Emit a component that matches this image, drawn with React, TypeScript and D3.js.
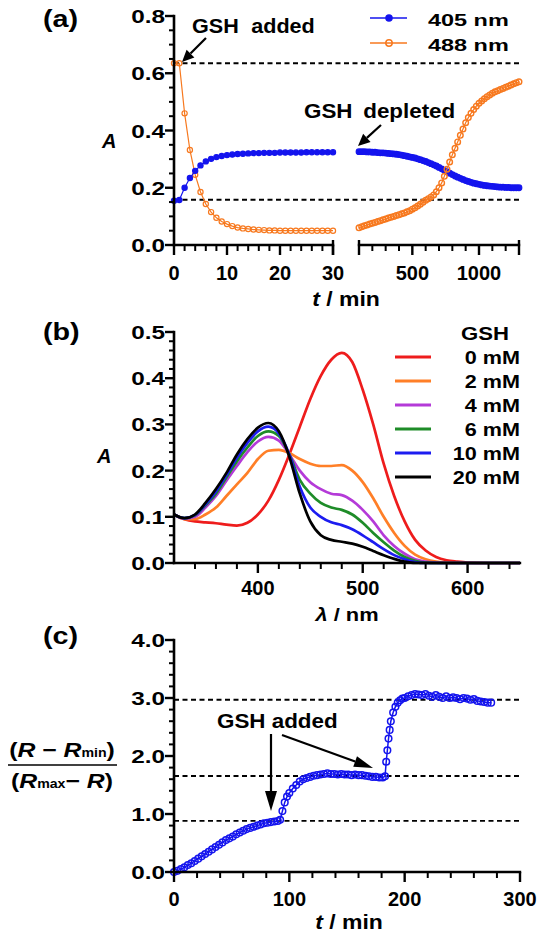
import React from 'react';
import * as d3 from 'd3';

// ---------- Panel (a) data ----------
const aTime1 = [0,1,2,3,4,5,6,7,8,9,10,11,12,13,14,15,16,17,18,19,20,21,22,23,24,25,26,27,28,29,30];
const a405Seg1 = [0.155,0.157,0.2,0.234,0.259,0.278,0.292,0.301,0.307,0.311,0.314,0.316,0.318,0.319,0.32,0.321,0.321,0.322,0.322,0.322,0.323,0.323,0.323,0.323,0.323,0.324,0.324,0.324,0.324,0.324,0.324];
const a488Seg1 = [0.635,0.635,0.46,0.332,0.245,0.185,0.143,0.115,0.095,0.082,0.073,0.066,0.061,0.058,0.056,0.054,0.053,0.052,0.051,0.051,0.05,0.05,0.05,0.05,0.05,0.05,0.05,0.05,0.05,0.05,0.05];
const aTime2 = [100,120,140,160,180,200,220,240,260,280,300,320,340,360,380,400,420,440,460,480,500,520,540,560,580,600,620,640,660,680,700,720,740,760,780,800,820,840,860,880,900,920,940,960,980,1000,1020,1040,1060,1080,1100,1120,1140,1160,1180,1200,1220,1240,1260,1280,1300];
const a405Seg2 = [0.326,0.326,0.326,0.325,0.325,0.324,0.324,0.323,0.322,0.322,0.321,0.32,0.319,0.318,0.317,0.316,0.314,0.312,0.31,0.308,0.306,0.304,0.301,0.298,0.295,0.292,0.288,0.284,0.28,0.276,0.271,0.266,0.261,0.256,0.251,0.246,0.241,0.237,0.233,0.229,0.225,0.222,0.219,0.216,0.214,0.212,0.21,0.208,0.207,0.206,0.205,0.204,0.203,0.202,0.202,0.201,0.201,0.2,0.2,0.2,0.2];
const a488Seg2 = [0.06,0.064,0.067,0.07,0.073,0.076,0.079,0.082,0.085,0.088,0.091,0.094,0.097,0.1,0.103,0.106,0.109,0.112,0.116,0.12,0.125,0.13,0.136,0.142,0.149,0.156,0.162,0.168,0.175,0.186,0.2,0.217,0.24,0.265,0.29,0.315,0.338,0.36,0.383,0.405,0.427,0.445,0.46,0.473,0.485,0.495,0.503,0.511,0.518,0.524,0.53,0.535,0.539,0.543,0.547,0.551,0.555,0.559,0.563,0.567,0.57];
const aRefLines = [0.635, 0.158];
const aYTicks = [0, 0.2, 0.4, 0.6, 0.8];
const aXTicks1 = [0, 10, 20, 30];
const aXTicks2 = [500, 1000];
const aLegend = ['405 nm', '488 nm'];

// ---------- Panel (b) data ----------
const bWavelength = [320,330,340,350,360,370,380,390,400,410,420,430,440,450,460,470,480,490,500,510,520,530,540,550,560,570,580,590,600,620,650];
const bGsh = ['0 mM', '2 mM', '4 mM', '6 mM', '10 mM', '20 mM'];
const bSpectra = [
  [0.105,0.095,0.09,0.088,0.086,0.083,0.081,0.087,0.105,0.135,0.18,0.235,0.295,0.355,0.405,0.44,0.455,0.435,0.375,0.3,0.215,0.145,0.09,0.05,0.027,0.013,0.006,0.003,0.001,0,0],
  [0.105,0.095,0.095,0.105,0.12,0.145,0.17,0.195,0.225,0.243,0.245,0.238,0.225,0.215,0.21,0.21,0.212,0.2,0.175,0.14,0.1,0.065,0.037,0.018,0.008,0.003,0.001,0,0,0,0],
  [0.105,0.096,0.1,0.12,0.145,0.178,0.21,0.24,0.263,0.273,0.265,0.235,0.2,0.175,0.16,0.15,0.147,0.135,0.115,0.09,0.06,0.037,0.02,0.008,0.003,0.001,0,0,0,0,0],
  [0.105,0.097,0.103,0.125,0.15,0.185,0.22,0.25,0.275,0.285,0.275,0.235,0.18,0.15,0.13,0.12,0.115,0.105,0.087,0.065,0.045,0.027,0.013,0.005,0.001,0,0,0,0,0,0],
  [0.105,0.097,0.104,0.127,0.155,0.19,0.228,0.26,0.285,0.295,0.28,0.235,0.165,0.12,0.1,0.088,0.082,0.073,0.06,0.045,0.03,0.017,0.008,0.002,0,0,0,0,0,0,0],
  [0.105,0.097,0.105,0.13,0.16,0.195,0.235,0.268,0.293,0.303,0.285,0.23,0.15,0.09,0.06,0.05,0.046,0.042,0.035,0.026,0.017,0.009,0.003,0,0,0,0,0,0,0,0],
];
const bColors = ['#ee1c1c', '#ff7f27', '#b43ad8', '#1e8c28', '#1c1cf0', '#000000'];
const bYTicks = [0, 0.1, 0.2, 0.3, 0.4, 0.5];
const bXTicks = [400, 500, 600];

// ---------- Panel (c) data ----------
const cTime = [0,3,6,9,12,15,18,21,24,27,30,33,36,39,42,45,48,51,54,57,60,63,66,69,72,75,78,81,84,87,90,92,94,96,98,100,103,106,109,112,115,118,121,124,127,130,133,136,139,142,145,148,151,154,157,160,163,166,169,172,175,178,181,183,184,185,186,187,188,190,192,194,196,198,200,203,206,209,212,215,218,221,224,227,230,233,236,239,242,245,248,251,254,257,260,263,266,269,272,275];
const cRatio = [0.00,0.02,0.05,0.08,0.12,0.15,0.19,0.23,0.27,0.31,0.35,0.39,0.43,0.47,0.51,0.55,0.58,0.61,0.65,0.68,0.71,0.74,0.76,0.78,0.80,0.82,0.84,0.85,0.86,0.87,0.88,0.90,1.05,1.20,1.30,1.36,1.44,1.50,1.56,1.60,1.62,1.64,1.66,1.67,1.68,1.69,1.70,1.69,1.69,1.68,1.69,1.68,1.68,1.67,1.68,1.67,1.67,1.66,1.65,1.64,1.64,1.63,1.63,1.65,1.90,2.10,2.30,2.45,2.60,2.75,2.85,2.92,2.96,2.99,3.00,3.03,3.05,3.07,3.06,3.05,3.07,3.04,3.02,3.05,3.02,3.00,3.03,3.00,3.01,3.00,2.98,3.00,2.99,2.97,2.98,2.95,2.94,2.93,2.92,2.92];
const cRefLines = [0.88, 1.655, 2.97];
const cYTicks = [0, 1, 2, 3, 4];
const cXTicks = [0, 100, 200, 300];

const BLUE = '#1414ee';
const ORANGE = '#f7791f';
const FONT = "'Liberation Sans', Arial, Helvetica, sans-serif";

type TP = { x: number; y: number; sx?: number; size?: number; anchor?: string; italic?: boolean; ws?: number; ls?: number; children?: React.ReactNode };
function Txt({ x, y, sx = 1, size = 20, anchor = 'start', italic = false, ws, ls, children }: TP) {
  return (
    <text transform={`translate(${x},${y}) scale(${sx},1)`} fontSize={size} fontWeight="bold" fontFamily={FONT}
      textAnchor={anchor} fontStyle={italic ? 'italic' : 'normal'} wordSpacing={ws} letterSpacing={ls} fill="#000">
      {children}
    </text>
  );
}

function Arrow({ x1, y1, x2, y2, len = 12, w = 11, sw = 2.2 }: any) {
  const ang = Math.atan2(y2 - y1, x2 - x1);
  const bx = x2 - len * Math.cos(ang), by = y2 - len * Math.sin(ang);
  const px = -Math.sin(ang) * w / 2, py = Math.cos(ang) * w / 2;
  return (
    <g>
      <line x1={x1} y1={y1} x2={bx} y2={by} stroke="#000" strokeWidth={sw} />
      <polygon points={`${x2},${y2} ${bx + px},${by + py} ${bx - px},${by - py}`} fill="#000" />
    </g>
  );
}

function YAxis({ scale, x, major, minorStep, fmt }: any) {
  const [d0, d1] = scale.domain();
  const minor = d3.range(d0, d1 + minorStep / 2, minorStep).filter((v: number) => !major.some((m: number) => Math.abs(m - v) < 1e-9));
  const [r0, r1] = scale.range();
  return (
    <g>
      <line x1={x} x2={x} y1={r0 + 1.2} y2={r1 - 1.2} stroke="#000" strokeWidth={2.6} />
      {minor.map((v: number, i: number) => <line key={'m' + i} x1={x - 5} x2={x} y1={scale(v)} y2={scale(v)} stroke="#000" strokeWidth={2} />)}
      {major.map((v: number, i: number) => (
        <g key={'M' + i}>
          <line x1={x - 9} x2={x} y1={scale(v)} y2={scale(v)} stroke="#000" strokeWidth={2.4} />
          <Txt x={x - 9} y={scale(v) + 7} sx={1.28} size={19} anchor="end">{fmt(v)}</Txt>
        </g>
      ))}
    </g>
  );
}

function XAxis({ scale, y, major, minorStep, minorStart, minorEnd, endBars = [], labelY }: any) {
  const [r0, r1] = scale.range();
  const minor = d3.range(minorStart, minorEnd + minorStep / 2, minorStep).filter((v: number) => !major.some((m: number) => Math.abs(m - v) < 1e-9));
  return (
    <g>
      <line x1={r0 - 1.2} x2={r1 + 1.2} y1={y} y2={y} stroke="#000" strokeWidth={2.6} />
      {minor.map((v: number, i: number) => <line key={'m' + i} x1={scale(v)} x2={scale(v)} y1={y} y2={y + 6} stroke="#000" strokeWidth={2} />)}
      {major.map((v: number, i: number) => (
        <g key={'M' + i}>
          <line x1={scale(v)} x2={scale(v)} y1={y} y2={y + 10} stroke="#000" strokeWidth={2.4} />
          <Txt x={scale(v)} y={labelY} size={20} anchor="middle">{String(v)}</Txt>
        </g>
      ))}
      {endBars.map((v: number, i: number) => <line key={'e' + i} x1={scale(v)} x2={scale(v)} y1={y - 5} y2={y + 10} stroke="#000" strokeWidth={2.4} />)}
    </g>
  );
}

function Markers({ xs, ys, x, y, color, filled, r, sw = 1.2, lw = 1.2 }: any) {
  const pts: [number, number][] = xs.map((t: number, i: number) => [x(t), y(ys[i])]);
  const line = d3.line();
  return (
    <g>
      <path d={line(pts) || ''} fill="none" stroke={color} strokeWidth={lw} />
      {pts.map((p, i) => (
        <circle key={i} cx={p[0]} cy={p[1]} r={r} fill={filled ? color : 'none'} stroke={color} strokeWidth={sw} />
      ))}
    </g>
  );
}

export default function App() {
  const fmt1 = d3.format('.1f');

  // panel (a)
  const ya = d3.scaleLinear().domain([0, 0.8]).range([245, 16]);
  const xa1 = d3.scaleLinear().domain([0, 30]).range([174, 333]);
  const xa2 = d3.scaleLinear().domain([100, 1300]).range([359, 519]);

  // panel (b)
  const yb = d3.scaleLinear().domain([0, 0.5]).range([563, 332]);
  const xb = d3.scaleLinear().domain([320, 650]).range([174, 520]);
  const specLine = d3.line<number>().x((_, i) => xb(bWavelength[i])).y((v) => yb(v)).curve(d3.curveMonotoneX);

  // panel (c)
  const yc = d3.scaleLinear().domain([0, 4]).range([872, 640]);
  const xc = d3.scaleLinear().domain([0, 300]).range([174, 520]);

  return (
    <svg width={544} height={937} style={{ position: 'absolute', left: 0, top: 0, background: '#fff' }}>
      <rect x={0} y={0} width={544} height={937} fill="#fff" />

      {/* ================= Panel (a) ================= */}
      <Txt x={43} y={27} size={23} sx={1.25}>(a)</Txt>
      {aRefLines.map((v, i) => (
        <line key={i} x1={174} x2={519} y1={ya(v)} y2={ya(v)} stroke="#000" strokeWidth={1.8} strokeDasharray="5,3.5" />
      ))}
      <Markers xs={aTime1} ys={a488Seg1} x={xa1} y={ya} color={ORANGE} filled={false} r={2.6} />
      <Markers xs={aTime1} ys={a405Seg1} x={xa1} y={ya} color={BLUE} filled={true} r={2.6} />
      <Markers xs={aTime2} ys={a405Seg2} x={xa2} y={ya} color={BLUE} filled={true} r={2.8} />
      <Markers xs={aTime2} ys={a488Seg2} x={xa2} y={ya} color={ORANGE} filled={false} r={2.8} sw={1.4} />
      <YAxis scale={ya} x={174} major={aYTicks} minorStep={0.05} fmt={fmt1} />
      <XAxis scale={xa1} y={245} major={aXTicks1} minorStep={2} minorStart={0} minorEnd={30} endBars={[30]} labelY={280} />
      <XAxis scale={xa2} y={245} major={aXTicks2} minorStep={100} minorStart={100} minorEnd={1300} endBars={[100, 1300]} labelY={280} />
      <Txt x={102} y={148} size={20} italic>A</Txt>
      <Txt x={346} y={306} size={20} anchor="middle" sx={1.15}><tspan fontStyle="italic">t</tspan> / min</Txt>
      {/* legend (a) */}
      {aLegend.map((lab, i) => {
        const ly = 18 + i * 25;
        const c = i === 0 ? BLUE : ORANGE;
        return (
          <g key={lab}>
            <line x1={370} x2={407} y1={ly} y2={ly} stroke={c} strokeWidth={1.6} />
            <circle cx={389} cy={ly} r={i === 0 ? 3 : 3.2} fill={i === 0 ? c : 'none'} stroke={c} strokeWidth={1.5} />
            <Txt x={428} y={ly + 8} size={17} sx={1.38}>{lab}</Txt>
          </g>
        );
      })}
      <Txt x={192} y={33} size={20} sx={1.08} ws={6}>GSH added</Txt>
      <Arrow x1={206} y1={38} x2={182} y2={62} len={12} w={11} />
      <Txt x={304} y={118} size={20} sx={1.12} ws={4}>GSH depleted</Txt>
      <Arrow x1={381} y1={125} x2={358} y2={146} len={12} w={11} />

      {/* ================= Panel (b) ================= */}
      <Txt x={43} y={340} size={23} sx={1.25}>(b)</Txt>
      {bSpectra.map((s, i) => (
        <path key={i} d={specLine(s) || ''} fill="none" stroke={bColors[i]} strokeWidth={2.7} strokeLinejoin="round" />
      ))}
      <YAxis scale={yb} x={174} major={bYTicks} minorStep={0.02} fmt={fmt1} />
      <XAxis scale={xb} y={563} major={bXTicks} minorStep={20} minorStart={340} minorEnd={640} labelY={595} />
      <Txt x={97} y={463} size={20} italic>A</Txt>
      <Txt x={347} y={621} size={19} anchor="middle" sx={1.15}><tspan fontStyle="italic">λ</tspan> / nm</Txt>
      <Txt x={485} y={340} size={18} sx={1.23} anchor="middle">GSH</Txt>
      {bGsh.map((lab, i) => {
        const ly = 357 + i * 24;
        return (
          <g key={lab}>
            <line x1={395} x2={431} y1={ly} y2={ly} stroke={bColors[i]} strokeWidth={3} />
            <Txt x={520} y={ly + 7} size={18} sx={1.2} anchor="end">{lab}</Txt>
          </g>
        );
      })}

      {/* ================= Panel (c) ================= */}
      <Txt x={43} y={644} size={23} sx={1.25}>(c)</Txt>
      {cRefLines.map((v, i) => (
        <line key={i} x1={174} x2={520} y1={yc(v)} y2={yc(v)} stroke="#000" strokeWidth={1.8} strokeDasharray="5,3.5" />
      ))}
      <Markers xs={cTime} ys={cRatio} x={xc} y={yc} color={BLUE} filled={false} r={3.3} sw={1.5} lw={1.5} />
      <YAxis scale={yc} x={174} major={cYTicks} minorStep={0.2} fmt={fmt1} />
      <XAxis scale={xc} y={872} major={cXTicks} minorStep={20} minorStart={0} minorEnd={300} labelY={906} />
      <Txt x={349} y={929} size={20} anchor="middle" sx={1.15}><tspan fontStyle="italic">t</tspan> / min</Txt>
      {/* fraction y-label */}
      <Txt x={62} y={757} size={21} sx={1.18} anchor="middle">
        (<tspan fontStyle="italic">R</tspan> − <tspan fontStyle="italic">R</tspan><tspan fontSize={12}>min</tspan>)
      </Txt>
      <line x1={8} x2={117} y1={765} y2={765} stroke="#000" strokeWidth={1.5} />
      <Txt x={62} y={788} size={21} sx={1.18} anchor="middle">
        (<tspan fontStyle="italic">R</tspan><tspan fontSize={12}>max</tspan>− <tspan fontStyle="italic">R</tspan>)
      </Txt>
      <Txt x={217} y={728} size={20} sx={1.12}>GSH added</Txt>
      <Arrow x1={271} y1={734} x2={271} y2={811} len={20} w={12} />
      <Arrow x1={282} y1={735} x2={373} y2={768} len={19} w={11} />
    </svg>
  );
}
